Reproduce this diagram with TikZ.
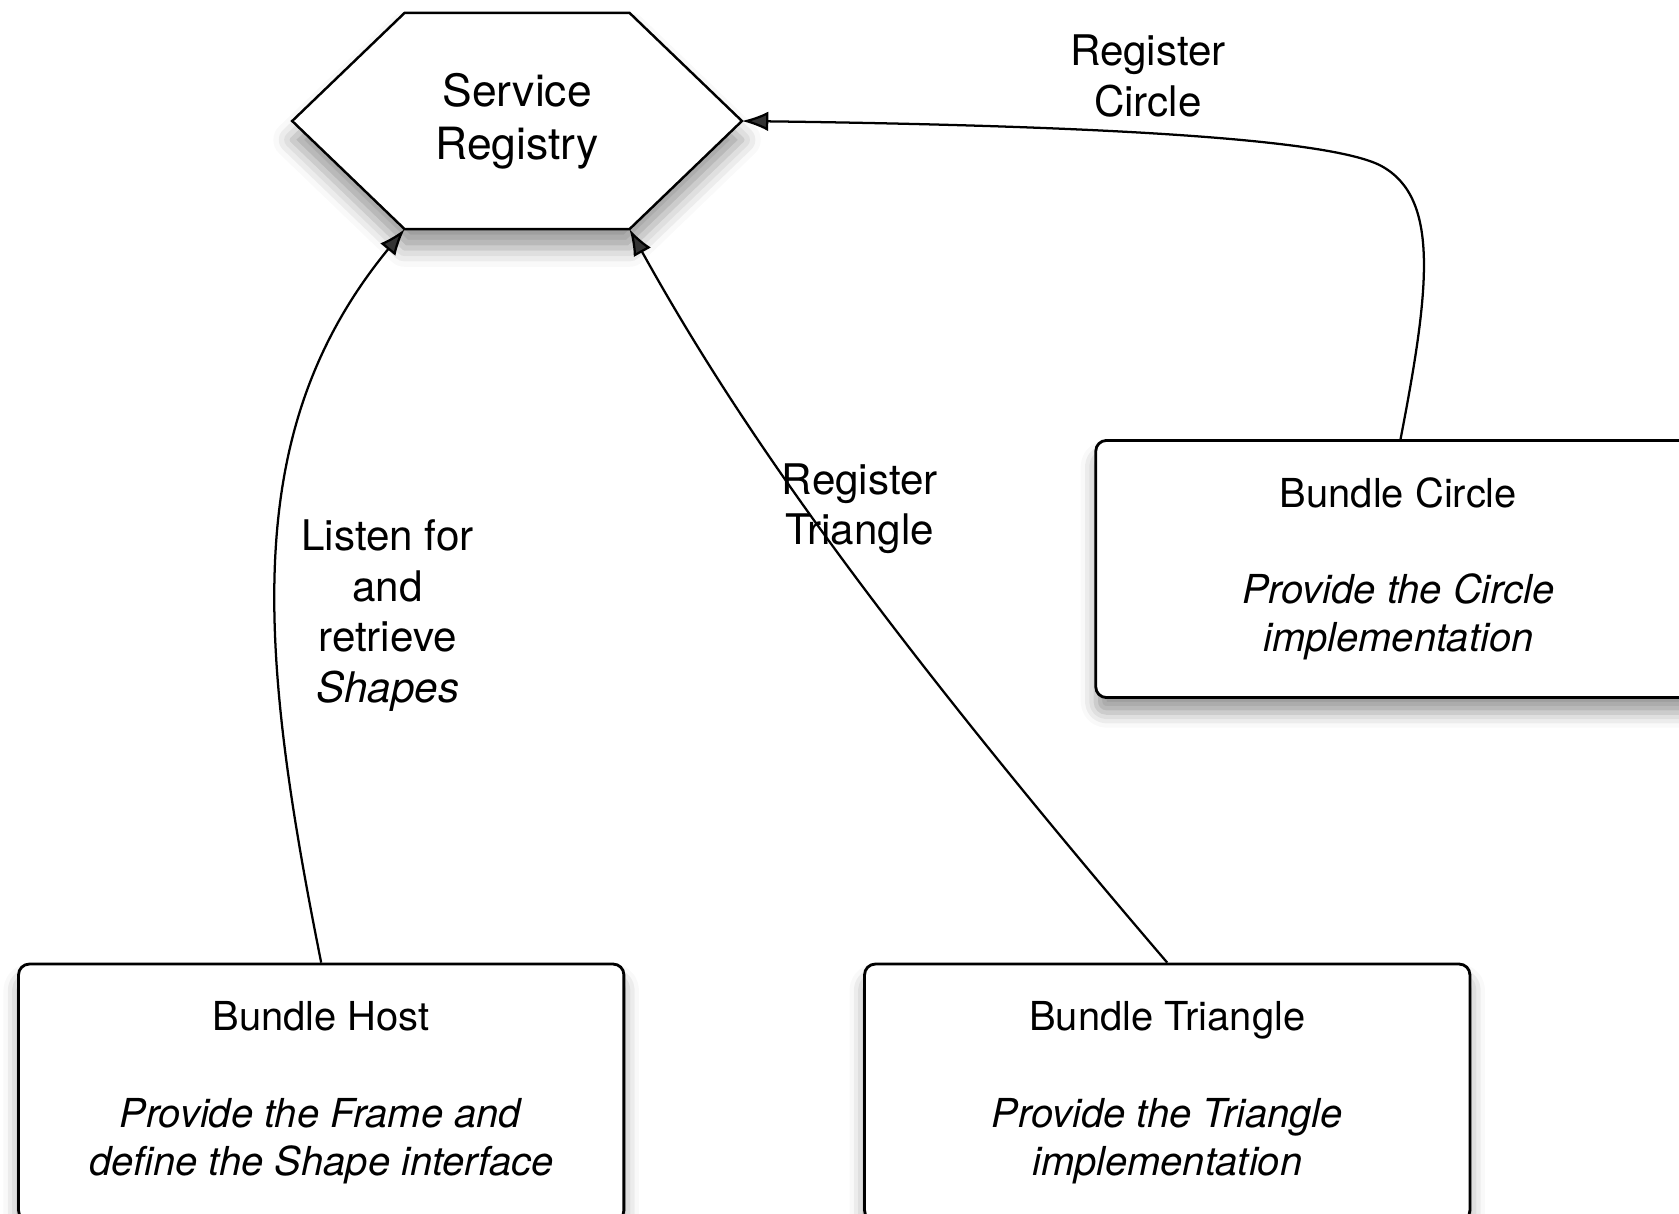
\documentclass[tikz,border=0pt]{standalone}
\usepackage{fontspec}
\setmainfont{TeX Gyre Heros}
\usetikzlibrary{arrows.meta,positioning,shadows.blur}

\tikzset{
  bundle/.style={draw, line width=0.75pt, rounded corners=0.1cm, fill=white, align=center,
    minimum width=5.65cm, minimum height=2.4cm, font=\fontsize{10.6}{12.8}\selectfont,
    blur shadow={shadow xshift=0pt, shadow yshift=-4pt, shadow blur radius=4pt}},
  regbox/.style={inner sep=0pt, align=center, font=\fontsize{11.8}{14.2}\selectfont},
  hexa/.style={draw, line width=0.65pt, fill=white,
    blur shadow={shadow xshift=0pt, shadow yshift=-5pt, shadow blur radius=5pt}},
  lbl/.style={align=center, font=\fontsize{11.2}{13.4}\selectfont},
  flow/.style={->, line width=0.6pt},
}

\begin{document}
\begin{tikzpicture}[x=0.01cm,y=0.01cm,>={Latex[length=7pt,width=5.2pt]}]
  \useasboundingbox (0,0) rectangle (1568,-1133);
  \clip (0,0) rectangle (1568,-1133);
  % registry
  \coordinate (reg-c) at (483,-113);
  \draw[hexa] ([xshift=-2.1cm]reg-c) coordinate (reg-w) -- ++(105,101) coordinate (reg-nw)
    -- ++(210,0) coordinate (reg-ne) -- ++(105,-101) coordinate (reg-tip)
    -- ++(-105,-101) coordinate (reg-se) -- ++(-210,0) coordinate (reg-sw) -- cycle;
  \node[regbox] (reg) at (reg-c) {Service\\Registry};
  % bundles
  \node[bundle, anchor=north west] (host) at (16,-899)
    {Bundle Host\\[12.8pt]\textit{Provide the Frame and}\\\textit{define the Shape interface}};
  \node[bundle, right=2.22cm of host] (tri)
    {Bundle Triangle\\[12.8pt]\textit{Provide the Triangle}\\\textit{implementation}};
  \node[bundle, anchor=north west] (circ) at (1022,-410)
    {Bundle Circle\\[12.8pt]\textit{Provide the Circle}\\\textit{implementation}};
  % labels
  \node[lbl] (lcirc) at (1072,-71) {Register\\Circle};
  \node[lbl] (ltri) at (803,-475) {Register\\Triangle};
  \node[lbl] (lhost) at (362,-575) {Listen for\\and\\retrieve\\\textit{Shapes}};
  % connectors
  \draw[flow] (host.north) .. controls (240,-600) and (225,-400) .. (reg-sw);
  \draw[flow] (tri.north) .. controls (800,-560) and (680,-380) .. (reg-se);
  \draw[flow] ([xshift=0.02cm]circ.north) .. controls (1335,-270) and (1345,-185) .. (1290,-155)
    .. controls (1240,-128) and (1000,-117) .. (reg-tip);
\end{tikzpicture}
\end{document}
